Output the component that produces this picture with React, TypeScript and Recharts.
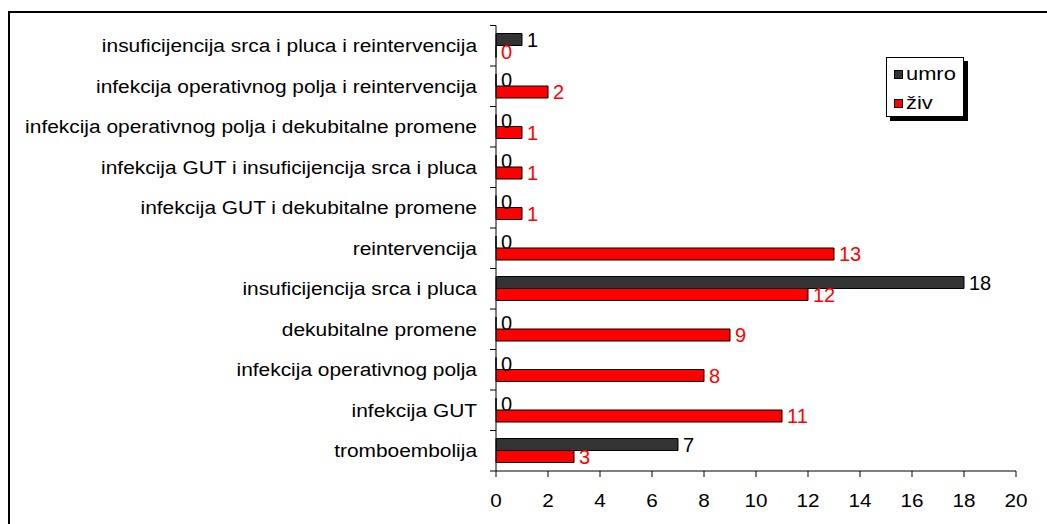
import React from "react";
import { BarChart, Bar, XAxis, YAxis, LabelList, Legend } from "recharts";

const categories = [
  "insuficijencija srca i pluca i reintervencija",
  "infekcija operativnog polja i reintervencija",
  "infekcija operativnog polja i dekubitalne promene",
  "infekcija GUT i insuficijencija srca i pluca",
  "infekcija GUT i dekubitalne promene",
  "reintervencija",
  "insuficijencija srca i pluca",
  "dekubitalne promene",
  "infekcija operativnog polja",
  "infekcija GUT",
  "tromboembolija",
];
const umro = [1, 0, 0, 0, 0, 0, 18, 0, 0, 0, 7];
const ziv = [0, 2, 1, 1, 1, 13, 12, 9, 8, 11, 3];
const xTicks = [0, 2, 4, 6, 8, 10, 12, 14, 16, 18, 20];

const data = categories.map((c, i) => ({ name: c, umro: umro[i], ziv: ziv[i] }));

const FONT = "'Liberation Sans', Arial, sans-serif";
const PLOT_TOP = 17.5;
const PLOT_BOTTOM = 463;
const BAND = (PLOT_BOTTOM - PLOT_TOP) / categories.length;
// zero values are kept as a vanishingly small width so that their labels still render
const EPS = 1e-7;

const CategoryTick = (props: any) => {
  const { x, y, payload, index } = props;
  const last = index === categories.length - 1;
  return (
    <g>
      <line x1={x - 6} x2={x} y1={y - BAND / 2} y2={y - BAND / 2} stroke="#000" strokeWidth={1} />
      {last && <line x1={x - 6} x2={x} y1={y + BAND / 2} y2={y + BAND / 2} stroke="#000" strokeWidth={1} />}
      <text
        transform={`translate(${x - 19},${y}) scale(1.1,1)`}
        x={0}
        y={0}
        textAnchor="end"
        dominantBaseline="central"
        fontSize={19}
        fontFamily={FONT}
        fill="#000"
      >
        {payload.value}
      </text>
    </g>
  );
};

const NumberTick = (props: any) => {
  const { x, y, payload } = props;
  return (
    <text
      transform={`translate(${x},${y}) scale(1.15,1)`}
      x={0}
      y={0}
      dy={13}
      textAnchor="middle"
      fontSize={18}
      fontFamily={FONT}
      fill="#000"
    >
      {payload.value}
    </text>
  );
};

const makeBarLabel = (color: string) => (props: any) => {
  const { x, y, width, height, value } = props;
  return (
    <text
      x={Number(x) + Number(width) + 5}
      y={Number(y) + Number(height) / 2}
      dominantBaseline="central"
      fontSize={20}
      fontFamily={FONT}
      fill={color}
    >
      {value}
    </text>
  );
};

const LegendBox = () => (
  <div
    style={{
      width: 76,
      height: 58,
      border: "1px solid #000",
      boxShadow: "4px 4px 0 #000",
      background: "#fff",
      position: "relative",
      fontFamily: FONT,
      fontSize: 19,
      color: "#000",
    }}
  >
    {[
      { label: "umro", color: "#333333", top: 16 },
      { label: "živ", color: "#ff0000", top: 45 },
    ].map((it) => (
      <div key={it.label} style={{ position: "absolute", left: 7, top: it.top - 11, height: 22, display: "flex", alignItems: "center", whiteSpace: "nowrap" }}>
        <span style={{ display: "inline-block", width: 7, height: 7, background: it.color, border: "1px solid #000", marginRight: 3 }} />
        <span style={{ display: "inline-block", lineHeight: "22px", transform: "scaleX(1.15)", transformOrigin: "left center" }}>{it.label}</span>
      </div>
    ))}
  </div>
);

export default function App() {
  return (
    <div style={{ position: "fixed", left: 0, top: 0, width: 1047, height: 524, overflow: "hidden", background: "#fff" }}>
      <div style={{ position: "absolute", left: 8, top: 11, width: 1100, height: 600, border: "2px solid #000" }} />
      <div style={{ position: "absolute", left: 8, top: 8 }}>
        <BarChart
          width={1039}
          height={516}
          data={data}
          layout="vertical"
          margin={{ top: PLOT_TOP, right: 31, bottom: 13, left: 8 }}
          barSize={12}
          barGap={0}
        >
          <XAxis
            type="number"
            domain={[0, 20]}
            ticks={xTicks}
            interval={0}
            height={40}
            stroke="#000"
            tickSize={6}
            tickMargin={17}
            tick={<NumberTick />}
            axisLine={{ stroke: "#000" }}
            tickLine={{ stroke: "#000" }}
          />
          <YAxis
            type="category"
            dataKey="name"
            width={480}
            interval={0}
            tickLine={false}
            tickSize={0}
            tickMargin={0}
            axisLine={{ stroke: "#000" }}
            tick={<CategoryTick />}
          />
          <Legend
            layout="horizontal"
            verticalAlign="middle"
            align="center"
            wrapperStyle={{ left: 878, top: 49, width: 80, height: 60 }}
            content={<LegendBox />}
          />
          <Bar
            dataKey={(d: any) => d.umro || EPS}
            name="umro"
            fill="#333333"
            stroke="#000"
            strokeWidth={1}
            isAnimationActive={false}
          >
            <LabelList dataKey="umro" content={makeBarLabel("#000")} />
          </Bar>
          <Bar
            dataKey={(d: any) => d.ziv || EPS}
            name="živ"
            fill="#ff0000"
            stroke="#000"
            strokeWidth={1}
            isAnimationActive={false}
          >
            <LabelList dataKey="ziv" content={makeBarLabel("#ff0000")} />
          </Bar>
        </BarChart>
      </div>
    </div>
  );
}
